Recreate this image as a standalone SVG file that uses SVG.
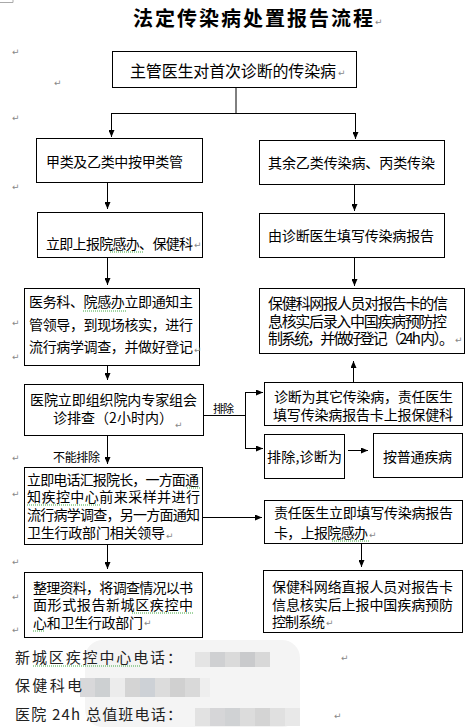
<svg xmlns="http://www.w3.org/2000/svg" width="471" height="727" viewBox="0 0 471 727">
<style>
.box{fill:#fff;stroke:#000;stroke-width:1}
.t{font-family:"Noto Sans CJK SC","Liberation Sans",sans-serif;font-size:14px;fill:#000}
.t16{font-size:16px}
.t15{font-size:15px}
.t12{font-size:12px}
.t11{font-size:11px}
.ln{fill:none;stroke:#000;stroke-width:1}
.pm{font-family:"DejaVu Sans",sans-serif;font-size:9px;fill:#888}
.sp{fill:none;stroke:#4a4;stroke-width:1;stroke-dasharray:1,1}
.ft{font-family:"Noto Sans CJK SC","Liberation Serif",serif;font-size:15px;fill:#222}
.title{font-family:"Noto Sans CJK SC",sans-serif;font-size:20px;font-weight:bold;fill:#000}
</style>
<defs>
<marker id="ah" markerWidth="7" markerHeight="6" refX="7" refY="3" orient="auto" markerUnits="userSpaceOnUse">
<path d="M0,0 L7,3 L0,6 z" fill="#000"/>
</marker>
</defs>
<rect width="471" height="727" fill="#fff"/>
<path d="M0,2.5 H13 M13,0 V2.5" stroke="#aaa" fill="none"/>

<text class="title" x="133" y="26" textLength="240">法定传染病处置报告流程</text>

<g id="connectors">
<path class="ln" d="M236,87 V113.5 M111,113.5 H355"/>
<path class="ln" d="M111.5,113 V137" marker-end="url(#ah)"/>
<path class="ln" d="M355.5,113 V139" marker-end="url(#ah)"/>
<path class="ln" d="M107.5,182 V209" marker-end="url(#ah)"/>
<path class="ln" d="M107.5,257 V285" marker-end="url(#ah)"/>
<path class="ln" d="M107.5,365 V380" marker-end="url(#ah)"/>
<path class="ln" d="M107.5,435 V464" marker-end="url(#ah)"/>
<path class="ln" d="M107.5,544 V569" marker-end="url(#ah)"/>
<path class="ln" d="M354.5,184 V211" marker-end="url(#ah)"/>
<path class="ln" d="M354.5,257 V286" marker-end="url(#ah)"/>
<path class="ln" d="M353.5,382 V361" marker-end="url(#ah)"/>
<path class="ln" d="M203,415.5 H245.5 M245.5,392 V448.5"/>
<path class="ln" d="M245,392.5 H263" marker-end="url(#ah)"/>
<path class="ln" d="M245,448.5 H263" marker-end="url(#ah)"/>
<path class="ln" d="M348,450.5 H368" marker-end="url(#ah)"/>
<path class="ln" d="M202,517.5 H262" marker-end="url(#ah)"/>
<path class="ln" d="M361.5,543 V567" marker-end="url(#ah)"/>
<text class="t t11" x="213" y="413" textLength="21">排除</text>
<text class="t t12" x="53" y="462" textLength="47">不能排除</text>
</g>

<g id="n-top">
<rect class="box" x="112.5" y="51.5" width="244" height="36"/>
<text class="t t16" x="130" y="77" textLength="206">主管医生对首次诊断的传染病</text>
</g>
<g id="n-a">
<rect class="box" x="36.5" y="138.5" width="166" height="44"/>
<text class="t" x="46" y="167" textLength="137">甲类及乙类中按甲类管</text>
</g>
<g id="n-b">
<rect class="box" x="37.5" y="212.5" width="165" height="45"/>
<text class="t" x="46" y="249" textLength="147">立即上报院感办、保健科</text>
<path class="sp" d="M110,252 H143"/>
</g>
<g id="n-c">
<rect class="box" x="24.5" y="288.5" width="175" height="77"/>
<text class="t" x="29" y="307" textLength="164">医务科、院感办立即通知主</text>
<text class="t" x="29" y="330" textLength="164">管领导，到现场核实，进行</text>
<text class="t" x="29" y="352" textLength="164">流行病学调查，并做好登记</text>
<path class="sp" d="M83,311 H127"/>
</g>
<g id="n-d">
<rect class="box" x="259.5" y="140.5" width="185" height="44"/>
<text class="t" x="268" y="168" textLength="167">其余乙类传染病、丙类传染</text>
</g>
<g id="n-e">
<rect class="box" x="259.5" y="213.5" width="185" height="44"/>
<text class="t" x="268" y="241" textLength="166">由诊断医生填写传染病报告</text>
</g>
<g id="n-f">
<rect class="box" x="259.5" y="288.5" width="205" height="65"/>
<text class="t t15" x="268" y="309" textLength="180">保健科网报人员对报告卡的信</text>
<text class="t t15" x="268" y="327" textLength="179">息核实后录入中国疾病预防控</text>
<text class="t t15" x="268" y="344" textLength="186">制系统，并做好登记（24h 内）。</text>
</g>
<g id="n-g">
<rect class="box" x="24.5" y="384.5" width="179" height="51"/>
<text class="t" x="30" y="405" textLength="167">医院立即组织院内专家组会</text>
<text class="t" x="53" y="423" textLength="120">诊排查（2小时内）</text>
</g>
<g id="n-h">
<rect class="box" x="24.5" y="467.5" width="178" height="77"/>
<text class="t" x="27" y="485" textLength="172">立即电话汇报院长，一方面通</text>
<text class="t" x="27" y="502" textLength="173">知疾控中心前来采样并进行</text>
<text class="t" x="27" y="520" textLength="173">流行病学调查，另一方面通知</text>
<text class="t" x="27" y="538" textLength="138">卫生行政部门相关领导</text>
<path class="sp" d="M187,488 H200 M27,505 H100"/>
</g>
<g id="n-i">
<rect class="box" x="24.5" y="572.5" width="178" height="65"/>
<text class="t" x="33" y="593" textLength="160">整理资料，将调查情况以书</text>
<text class="t" x="33" y="610" textLength="160">面形式报告新城区疾控中</text>
<text class="t" x="33" y="628" textLength="110">心和卫生行政部门</text>
<path class="sp" d="M132,613 H193 M33,631 H45"/>
</g>
<g id="n-j">
<rect class="box" x="264.5" y="382.5" width="198" height="43"/>
<text class="t" x="274" y="402" textLength="179">诊断为其它传染病，责任医生</text>
<text class="t" x="273" y="420" textLength="180">填写传染病报告卡上报保健科</text>
</g>
<g id="n-k">
<rect class="box" x="264.5" y="434.5" width="80" height="44"/>
<text class="t" x="267" y="462" textLength="75">排除,诊断为</text>
</g>
<g id="n-l">
<rect class="box" x="373.5" y="433.5" width="89" height="44"/>
<text class="t" x="383" y="462" textLength="69">按普通疾病</text>
</g>
<g id="n-m">
<rect class="box" x="264.5" y="500.5" width="198" height="43"/>
<text class="t" x="274" y="518" textLength="179">责任医生立即填写传染病报告</text>
<text class="t" x="274" y="538" textLength="94">卡，上报院感办</text>
<path class="sp" d="M332,541 H370"/>
</g>
<g id="n-n">
<rect class="box" x="263.5" y="570.5" width="199" height="62"/>
<text class="t" x="272" y="592" textLength="181">保健科网络直报人员对报告卡</text>
<text class="t" x="272" y="610" textLength="181">信息核实后上报中国疾病预防</text>
<text class="t" x="272" y="627" textLength="53">控制系统</text>
</g>

<g id="footer">
<rect x="85" y="640" width="215" height="87" rx="18" fill="#f4f4f4"/>
<g>
<rect x="195" y="652" width="15" height="15" fill="#e4e4e4"/>
<rect x="210" y="652" width="15" height="15" fill="#cfd0d2"/>
<rect x="225" y="652" width="15" height="15" fill="#dadada"/>
<rect x="240" y="652" width="15" height="15" fill="#c9cacc"/>
<rect x="255" y="652" width="15" height="15" fill="#d8d8d8"/>
<rect x="80" y="678" width="15" height="19" fill="#d8d8da"/>
<rect x="95" y="678" width="15" height="19" fill="#cdd0d2"/>
<rect x="110" y="678" width="15" height="19" fill="#ececec"/>
<rect x="125" y="678" width="15" height="19" fill="#d4d4d4"/>
<rect x="140" y="678" width="15" height="19" fill="#cdd1d6"/>
<rect x="155" y="678" width="15" height="19" fill="#dcdcdc"/>
<rect x="170" y="678" width="15" height="19" fill="#d0d0d0"/>
<rect x="185" y="678" width="15" height="19" fill="#d9d9d9"/>
<rect x="200" y="678" width="10" height="19" fill="#eeeeee"/>
<rect x="195" y="708" width="15" height="18" fill="#e2e2e2"/>
<rect x="210" y="708" width="15" height="18" fill="#d6d6d8"/>
<rect x="225" y="708" width="15" height="18" fill="#d0d2d4"/>
<rect x="240" y="708" width="15" height="18" fill="#dcdcdc"/>
<rect x="255" y="708" width="15" height="18" fill="#d4d4d4"/>
<rect x="270" y="708" width="15" height="18" fill="#e0e0e0"/>
<rect x="285" y="708" width="15" height="18" fill="#e8e8e8"/>
</g>
<text class="ft" x="15" y="663" textLength="167">新城区疾控中心电话：</text>
<path class="sp" d="M33,666 H140"/>
<text class="ft" x="15" y="691" textLength="67">保健科电</text>
<text class="ft" x="15" y="720" textLength="167">医院 24h 总值班电话：</text>
</g>

<g id="marks">
<text class="pm" x="375" y="25">↵</text>
<text class="pm" x="12" y="55">↵</text>
<text class="pm" x="54" y="86">↵</text>
<text class="pm" x="12" y="121">↵</text>
<text class="pm" x="338" y="76">↵</text>
<text class="pm" x="12" y="190">↵</text>
<text class="pm" x="194" y="248">↵</text>
<text class="pm" x="12" y="326">↵</text>
<text class="pm" x="12" y="360">↵</text>
<text class="pm" x="194" y="353">↵</text>
<text class="pm" x="455" y="343">↵</text>
<text class="pm" x="175" y="428">↵</text>
<text class="pm" x="12" y="461">↵</text>
<text class="pm" x="12" y="497">↵</text>
<text class="pm" x="12" y="565">↵</text>
<text class="pm" x="12" y="600">↵</text>
<text class="pm" x="12" y="633">↵</text>
<text class="pm" x="166" y="539">↵</text>
<text class="pm" x="369" y="538">↵</text>
<text class="pm" x="144" y="626">↵</text>
<text class="pm" x="326" y="626">↵</text>
<text class="pm" x="341" y="661">↵</text>
<text class="pm" x="334" y="719">↵</text>
</g>
</svg>
